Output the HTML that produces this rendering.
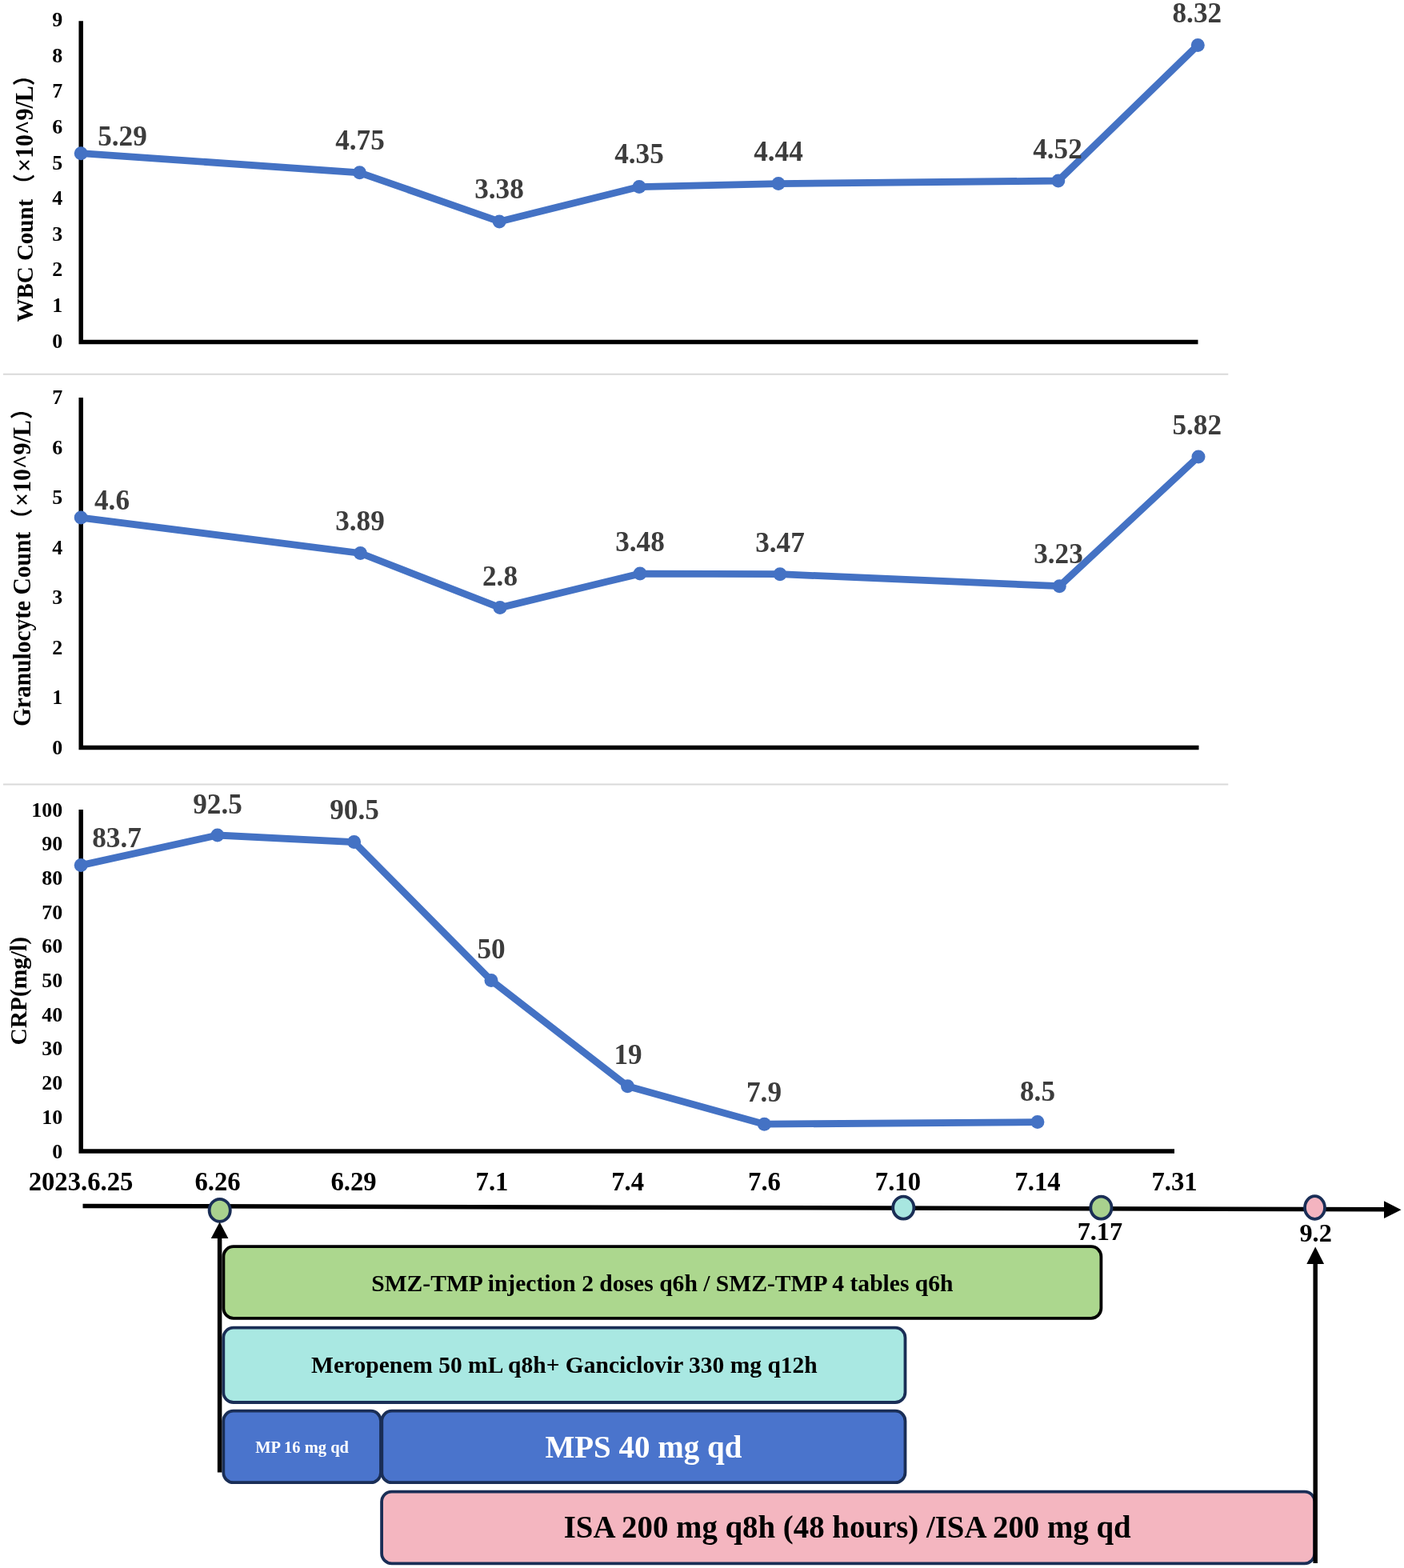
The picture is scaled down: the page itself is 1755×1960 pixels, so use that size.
<!DOCTYPE html>
<html lang="en"><head><meta charset="utf-8"><title>Clinical course timeline</title>
<style>
html,body{margin:0;padding:0;background:#fff;}
body{width:1755px;height:1960px;overflow:hidden;}
svg{display:block;}
text{font-family:"Liberation Serif","Noto Serif CJK SC",serif;font-weight:bold;}
.tk{fill:#000;font-size:26px;}
.ti{fill:#000;}
.pa{font-family:"Noto Sans CJK SC","Noto Serif CJK SC",sans-serif;font-size:27px;}
.dl{fill:#3c3c3c;font-size:35.2px;}
.xl{fill:#000;font-size:32.7px;}
.bx{stroke-width:3.8;}
</style></head><body>
<svg width="1755" height="1960" viewBox="0 0 1755 1960">
<rect width="1755" height="1960" fill="#fff"/>
<line x1="4" y1="467.7" x2="1535.3" y2="467.7" stroke="#d9d9d9" stroke-width="2"/>
<line x1="4" y1="980.6" x2="1535.3" y2="980.6" stroke="#d9d9d9" stroke-width="2"/>
<path d="M101.2 26.3 V427.6 H1497.5" fill="none" stroke="#000" stroke-width="5.5"/>
<g class="tk" text-anchor="end">
<text x="78.3" y="434.50">0</text>
<text x="78.3" y="389.90">1</text>
<text x="78.3" y="345.30">2</text>
<text x="78.3" y="300.70">3</text>
<text x="78.3" y="256.10">4</text>
<text x="78.3" y="211.50">5</text>
<text x="78.3" y="166.90">6</text>
<text x="78.3" y="122.30">7</text>
<text x="78.3" y="77.70">8</text>
<text x="78.3" y="33.10">9</text>
</g>
<text class="ti" transform="translate(41.4 402.6) rotate(-90) scale(1 1.04)" font-size="29"><tspan x="0">WBC Count</tspan><tspan x="158.3" class="pa">（</tspan><tspan x="187.6" font-size="30">×10^9/L</tspan><tspan x="295.4" class="pa">）</tspan></text>
<polyline points="101.2,191.7 449.5,215.8 624.2,276.9 799.0,233.6 973.0,229.6 1322.8,226.0 1497.3,56.5" fill="none" stroke="#4472c4" stroke-width="8.8" stroke-linejoin="round" stroke-linecap="round"/>
<g fill="#4472c4">
<circle cx="101.2" cy="191.7" r="8.5"/>
<circle cx="449.5" cy="215.8" r="8.5"/>
<circle cx="624.2" cy="276.9" r="8.5"/>
<circle cx="799.0" cy="233.6" r="8.5"/>
<circle cx="973.0" cy="229.6" r="8.5"/>
<circle cx="1322.8" cy="226.0" r="8.5"/>
<circle cx="1497.3" cy="56.5" r="8.5"/>
</g>
<g class="dl" text-anchor="middle">
<text transform="translate(153 182) scale(1 1.03)">5.29</text>
<text transform="translate(450 187) scale(1 1.03)">4.75</text>
<text transform="translate(624 248) scale(1 1.03)">3.38</text>
<text transform="translate(799 204) scale(1 1.03)">4.35</text>
<text transform="translate(973 201) scale(1 1.03)">4.44</text>
<text transform="translate(1322 198) scale(1 1.03)">4.52</text>
<text transform="translate(1496.3 27.8) scale(1 1.03)">8.32</text>
</g>
<path d="M101.2 497 V934.6 H1498.5" fill="none" stroke="#000" stroke-width="5.5"/>
<g class="tk" text-anchor="end">
<text x="78.3" y="942.65">0</text>
<text x="78.3" y="880.15">1</text>
<text x="78.3" y="817.65">2</text>
<text x="78.3" y="755.15">3</text>
<text x="78.3" y="692.65">4</text>
<text x="78.3" y="630.15">5</text>
<text x="78.3" y="567.65">6</text>
<text x="78.3" y="505.15">7</text>
</g>
<text class="ti" transform="translate(38.3 908.1) rotate(-90) scale(1 1.04)" font-size="29.5"><tspan x="0">Granulocyte Count</tspan><tspan x="245.5" class="pa">（</tspan><tspan x="275" font-size="30">×10^9/L</tspan><tspan x="384.2" class="pa">）</tspan></text>
<polyline points="101.2,647.1 450.5,691.5 625.0,759.6 800.0,717.1 975.0,717.7 1324.3,732.7 1498.0,570.9" fill="none" stroke="#4472c4" stroke-width="8.8" stroke-linejoin="round" stroke-linecap="round"/>
<g fill="#4472c4">
<circle cx="101.2" cy="647.1" r="8.5"/>
<circle cx="450.5" cy="691.5" r="8.5"/>
<circle cx="625.0" cy="759.6" r="8.5"/>
<circle cx="800.0" cy="717.1" r="8.5"/>
<circle cx="975.0" cy="717.7" r="8.5"/>
<circle cx="1324.3" cy="732.7" r="8.5"/>
<circle cx="1498.0" cy="570.9" r="8.5"/>
</g>
<g class="dl" text-anchor="middle">
<text transform="translate(140 637) scale(1 1.03)">4.6</text>
<text transform="translate(450 663) scale(1 1.03)">3.89</text>
<text transform="translate(625 732) scale(1 1.03)">2.8</text>
<text transform="translate(800 689) scale(1 1.03)">3.48</text>
<text transform="translate(975 690) scale(1 1.03)">3.47</text>
<text transform="translate(1323 704) scale(1 1.03)">3.23</text>
<text transform="translate(1496.2 543) scale(1 1.03)">5.82</text>
</g>
<path d="M101.2 1012 V1438.9 H1468" fill="none" stroke="#000" stroke-width="5.5"/>
<g class="tk" text-anchor="end">
<text x="78.3" y="1447.50">0</text>
<text x="78.3" y="1404.81">10</text>
<text x="78.3" y="1362.12">20</text>
<text x="78.3" y="1319.43">30</text>
<text x="78.3" y="1276.74">40</text>
<text x="78.3" y="1234.05">50</text>
<text x="78.3" y="1191.36">60</text>
<text x="78.3" y="1148.67">70</text>
<text x="78.3" y="1105.98">80</text>
<text x="78.3" y="1063.29">90</text>
<text x="78.3" y="1020.60">100</text>
</g>
<text class="ti" transform="translate(33.3 1306.5) rotate(-90) scale(1 0.98)" font-size="29.4"><tspan x="0">CRP(mg/l)</tspan></text>
<polyline points="101.2,1081.6 271.8,1044.0 442.6,1052.6 614.0,1225.5 784.5,1357.8 955.4,1405.2 1296.9,1402.6" fill="none" stroke="#4472c4" stroke-width="8.8" stroke-linejoin="round" stroke-linecap="round"/>
<g fill="#4472c4">
<circle cx="101.2" cy="1081.6" r="8.5"/>
<circle cx="271.8" cy="1044.0" r="8.5"/>
<circle cx="442.6" cy="1052.6" r="8.5"/>
<circle cx="614.0" cy="1225.5" r="8.5"/>
<circle cx="784.5" cy="1357.8" r="8.5"/>
<circle cx="955.4" cy="1405.2" r="8.5"/>
<circle cx="1296.9" cy="1402.6" r="8.5"/>
</g>
<g class="dl" text-anchor="middle">
<text transform="translate(146 1058.5) scale(1 1.03)">83.7</text>
<text transform="translate(272 1017) scale(1 1.03)">92.5</text>
<text transform="translate(443 1024) scale(1 1.03)">90.5</text>
<text transform="translate(614 1198) scale(1 1.03)">50</text>
<text transform="translate(785 1330) scale(1 1.03)">19</text>
<text transform="translate(955 1377) scale(1 1.03)">7.9</text>
<text transform="translate(1297 1376) scale(1 1.03)">8.5</text>
</g>
<g class="xl" text-anchor="middle">
<text x="101" y="1488.2">2023.6.25</text>
<text x="272" y="1488.2">6.26</text>
<text x="442" y="1488.2">6.29</text>
<text x="615" y="1488.2">7.1</text>
<text x="784.6" y="1488.2">7.4</text>
<text x="955.5" y="1488.2">7.6</text>
<text x="1122.4" y="1488.2">7.10</text>
<text x="1297" y="1488.2">7.14</text>
<text x="1468" y="1488.2">7.31</text>
</g>
<line x1="103.5" y1="1507.4" x2="1735" y2="1511.7" stroke="#000" stroke-width="5.5"/>
<path d="M1751.5 1512.2 L1730 1501.3 L1730 1523.1 Z" fill="#000"/>
<ellipse cx="274.7" cy="1512.9" rx="13.1" ry="14" fill="#a9d18e" stroke="#1a2e56" stroke-width="3.8"/>
<ellipse cx="1129.3" cy="1509.7" rx="13.1" ry="14" fill="#a8e6e0" stroke="#1a2e56" stroke-width="3.8"/>
<ellipse cx="1376.4" cy="1509.7" rx="13.1" ry="14" fill="#a9d18e" stroke="#1a2e56" stroke-width="3.8"/>
<ellipse cx="1643.5" cy="1509.5" rx="12.5" ry="14.3" fill="#f4b4c0" stroke="#1a2e56" stroke-width="3.8"/>
<g class="tk" text-anchor="middle" style="font-size:32.3px">
<text x="1374.9" y="1550.3">7.17</text>
<text x="1644.6" y="1551.5">9.2</text>
</g>
<rect class="bx" x="279.4" y="1558.2" width="1097.0" height="89.6" rx="12.5" fill="#acd78e" stroke="#000"/>
<text transform="translate(827.9 1613.5) scale(1 1.03)" text-anchor="middle" font-size="29.6" fill="#000">SMZ-TMP injection 2 doses q6h / SMZ-TMP 4 tables q6h</text>
<rect class="bx" x="279.3" y="1659.6" width="852.2" height="93.4" rx="12.5" fill="#a9e8e2" stroke="#1a2e56"/>
<text transform="translate(705.4 1716) scale(1 1.03)" text-anchor="middle" font-size="29.5" fill="#000">Meropenem 50 mL q8h+ Ganciclovir 330 mg q12h</text>
<rect class="bx" x="279.3" y="1763.7" width="196.7" height="89.5" rx="12.5" fill="#4a74cc" stroke="#1a2e56"/>
<text transform="translate(377.6 1816) scale(1 1.03)" text-anchor="middle" font-size="20.5" fill="#fff">MP 16 mg qd</text>
<rect class="bx" x="477.3" y="1763.7" width="654.2" height="89.5" rx="12.5" fill="#4a74cc" stroke="#1a2e56"/>
<text transform="translate(804.4 1822) scale(1 1.03)" text-anchor="middle" font-size="39" fill="#fff">MPS 40 mg qd</text>
<rect class="bx" x="477.1" y="1864.6" width="1166.2" height="89.7" rx="12.5" fill="#f4b6c0" stroke="#1a2e56"/>
<text transform="translate(1059.2 1921.5) scale(1 1.03)" text-anchor="middle" font-size="38.85" fill="#000">ISA 200 mg q8h (48 hours) /ISA 200 mg qd</text>
<line x1="274.6" y1="1840.6" x2="274.6" y2="1545" stroke="#000" stroke-width="5.5"/>
<path d="M274.6 1527.5 L263.8 1548 L285.4 1548 Z" fill="#000"/>
<line x1="1644.2" y1="1954.1" x2="1644.2" y2="1577" stroke="#000" stroke-width="5.5"/>
<path d="M1644.2 1558.5 L1633.3 1580 L1655.1 1580 Z" fill="#000"/>
</svg></body></html>
